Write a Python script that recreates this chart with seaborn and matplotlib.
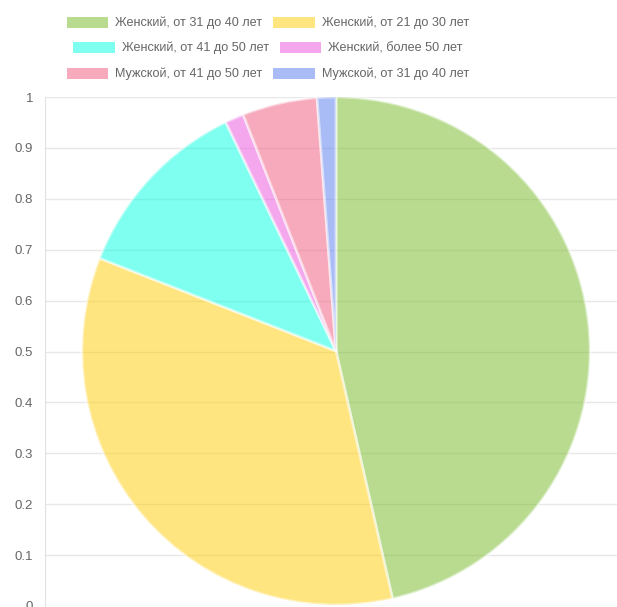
import matplotlib
matplotlib.use("Agg")
import matplotlib.pyplot as plt
import matplotlib.patches as mpatches
import seaborn as sns

# Данные
labels = [
    "Женский, от 31 до 40 лет",
    "Женский, от 21 до 30 лет",
    "Женский, от 41 до 50 лет",
    "Женский, более 50 лет",
    "Мужской, от 41 до 50 лет",
    "Мужской, от 31 до 40 лет",
]
counts = [39, 29, 10, 1, 4, 1]
colors = ["#73b923", "#ffcd01", "#01ffe1", "#eb51dd", "#ef577b", "#577bef"]
y_ticks = [0, 0.1, 0.2, 0.3, 0.4, 0.5, 0.6, 0.7, 0.8, 0.9, 1]
y_tick_labels = ["0", "0.1", "0.2", "0.3", "0.4", "0.5", "0.6", "0.7", "0.8", "0.9", "1"]

sns.set_style("white")
plt.rcParams["font.family"] = ["Liberation Sans", "DejaVu Sans"]

fig = plt.figure(figsize=(6.17, 6.07), dpi=100)

# Ось с сеткой (как в Chart.js)
ax = fig.add_axes([45 / 617, 1 / 607, 1 - 45 / 617, 509 / 607])
ax.set_ylim(0, 1)
ax.set_xlim(0, 1)
ax.set_yticks(y_ticks)
ax.set_yticklabels(y_tick_labels, color="#666666", fontsize=9.5)
ax.set_xticks([])
ax.tick_params(axis="y", length=6.5, color="#e2e2e2", pad=2)
ax.grid(axis="y", color="#e8e8e8", linewidth=1)
for side in ["top", "right", "bottom"]:
    ax.spines[side].set_visible(False)
ax.spines["left"].set_color("#e2e2e2")
ax.set_axisbelow(True)

# Круговая диаграмма
pax = fig.add_axes([82 / 617, 2 / 607, 508 / 617, 508 / 607])
pax.pie(
    counts,
    colors=colors,
    startangle=90,
    counterclock=False,
    radius=1,
    wedgeprops=dict(edgecolor="white", linewidth=2, alpha=0.5),
)
pax.set_xlim(-1.0, 1.0)
pax.set_ylim(-1.0, 1.0)
pax.set_aspect("equal")
pax.axis("off")

# Легенда: три строки по два элемента, каждая строка по центру
handles = [mpatches.Patch(facecolor=c, alpha=0.5, edgecolor="none") for c in colors]
rows_y = [1 - 23 / 607, 1 - 48 / 607, 1 - 74 / 607]
for i, y in enumerate(rows_y):
    leg = fig.legend(
        handles[2 * i:2 * i + 2],
        labels[2 * i:2 * i + 2],
        loc="center",
        bbox_to_anchor=(268 / 617, y),
        ncol=2,
        frameon=False,
        fontsize=9.1,
        handlelength=3.3,
        handleheight=1.0,
        handletextpad=0.55,
        columnspacing=0.85,
        borderpad=0,
        borderaxespad=0,
    )
    for t in leg.get_texts():
        t.set_color("#666666")

fig.savefig("out.png", dpi=100)
